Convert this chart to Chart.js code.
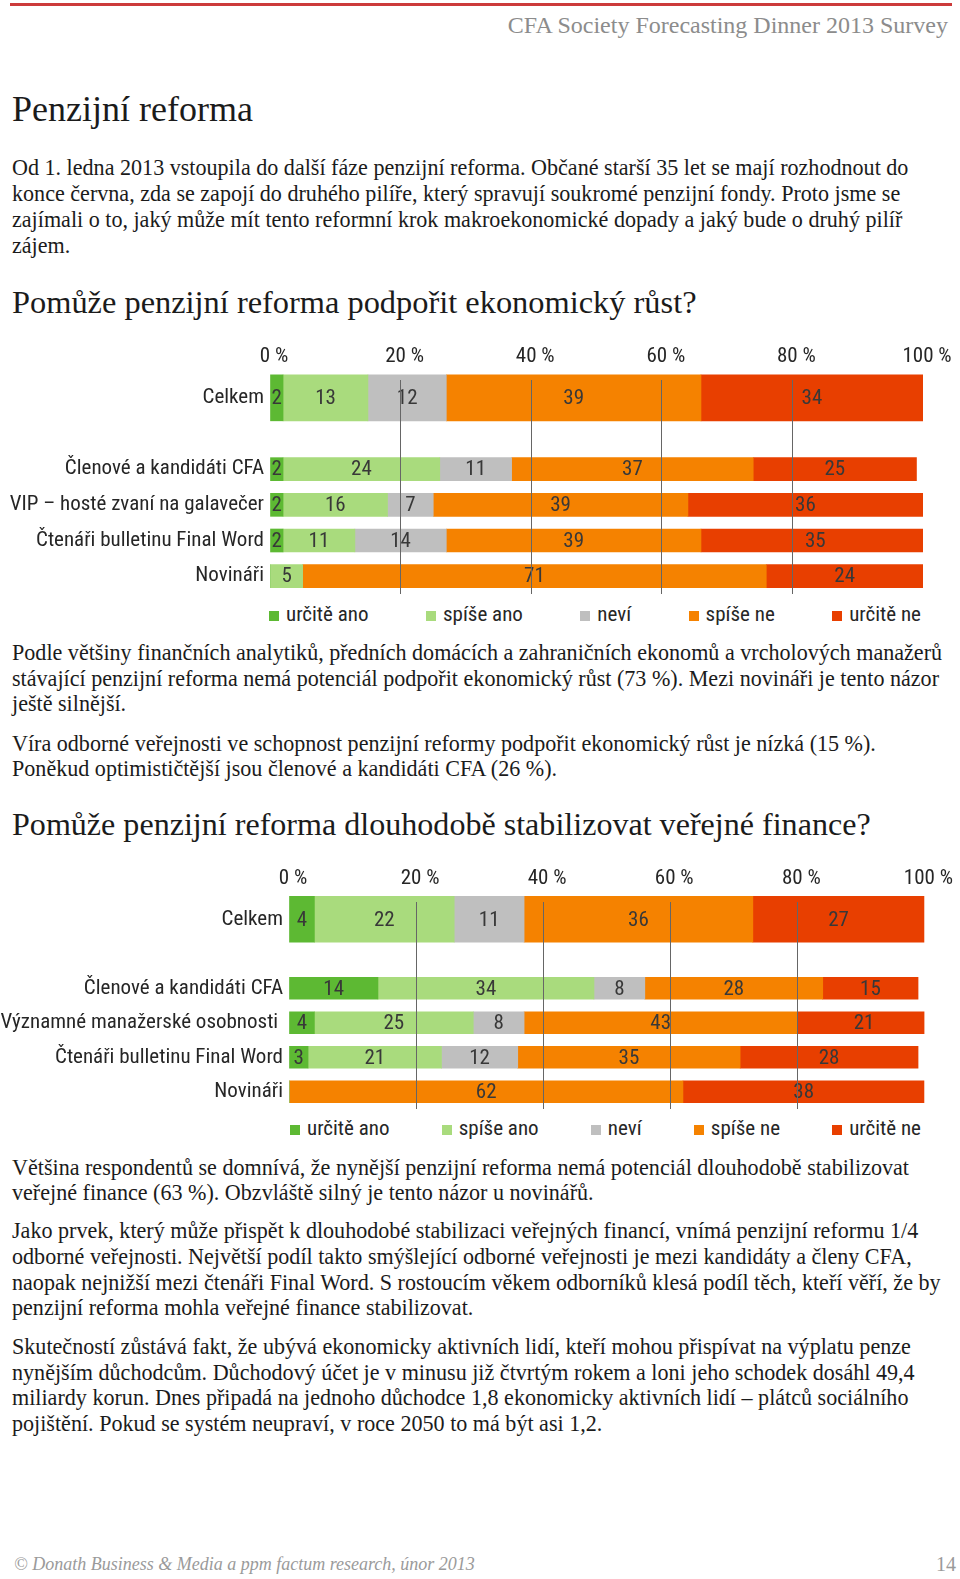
<!DOCTYPE html>
<html lang="cs">
<head>
<meta charset="utf-8">
<title>Penzijní reforma</title>
<script src="https://cdn.jsdelivr.net/npm/chart.js@4.4.1/dist/chart.umd.min.js"></script>
<style>
  html, body { margin: 0; padding: 0; background: #fff; }
  #page { position: relative; width: 960px; height: 1579px; overflow: hidden; font-family: "Liberation Serif", serif; color: #1b1b1b; }
  .abs { position: absolute; white-space: nowrap; }
  .topline { position: absolute; left: 10px; top: 3px; width: 942px; height: 3px; background: #cc3b3b; }
  .header { right: 12px; top: 12px; font-size: 24px; line-height: 26px; color: #8c8c8c; }
  .h { left: 12px; font-size: 32.4px; line-height: 40px; }
  .h.big { font-size: 36px; }
  .h.h3 { font-size: 32.1px; }
  .p { left: 12px; font-size: 22.1px; line-height: 25.7px; }
  .footer { left: 14px; top: 1551px; font-size: 18px; line-height: 26px; color: #9a9a9a; font-style: italic; }
  .pageno { right: 4px; top: 1551px; font-size: 20px; line-height: 26px; color: #9a9a9a; }
  canvas { position: absolute; left: 0; }
  .legend { position: absolute; display: flex; justify-content: space-between; font-family: "Roboto Condensed", sans-serif; font-size: 21px; color: #262626; line-height: 22px; }
  .legend .sw { display: inline-block; width: 10px; height: 10px; margin-right: 7px; }
</style>
</head>
<body>
<div id="page">
  <div class="topline"></div>
  <div class="abs header">CFA Society Forecasting Dinner 2013 Survey</div>
  <div class="abs h big" style="top:89px">Penzijní reforma</div>
  <div class="abs p" style="top:155.4px">Od 1. ledna 2013 vstoupila do další fáze penzijní reforma. Občané starší 35 let se mají rozhodnout do<br>konce června, zda se zapojí do druhého pilíře, který spravují soukromé penzijní fondy. Proto jsme se<br>zajímali o to, jaký může mít tento reformní krok makroekonomické dopady a jaký bude o druhý pilíř<br>zájem.</div>
  <div class="abs h" style="top:282px">Pomůže penzijní reforma podpořit ekonomický růst?</div>
  <canvas id="chart1" width="960" height="264" style="top:330px"></canvas>
  <div class="legend" id="legend1" style="left:269px; width:652px; top:603px"></div>
  <div class="abs p" style="top:640px">Podle většiny finančních analytiků, předních domácích a zahraničních ekonomů a vrcholových manažerů<br>stávající penzijní reforma nemá potenciál podpořit ekonomický růst (73 %). Mezi novináři je tento názor<br>ještě silnější.</div>
  <div class="abs p" style="top:730.5px">Víra odborné veřejnosti ve schopnost penzijní reformy podpořit ekonomický růst je nízká (15 %).<br>Poněkud optimističtější jsou členové a kandidáti CFA (26 %).</div>
  <div class="abs h h3" style="top:804px">Pomůže penzijní reforma dlouhodobě stabilizovat veřejné finance?</div>
  <canvas id="chart2" width="960" height="257" style="top:852px"></canvas>
  <div class="legend" id="legend2" style="left:290px; width:631px; top:1117px"></div>
  <div class="abs p" style="top:1154.7px">Většina respondentů se domnívá, že nynější penzijní reforma nemá potenciál dlouhodobě stabilizovat<br>veřejné finance (63 %). Obzvláště silný je tento názor u novinářů.</div>
  <div class="abs p" style="top:1218.2px">Jako prvek, který může přispět k dlouhodobé stabilizaci veřejných financí, vnímá penzijní reformu 1/4<br>odborné veřejnosti. Největší podíl takto smýšlející odborné veřejnosti je mezi kandidáty a členy CFA,<br>naopak nejnižší mezi čtenáři Final Word. S rostoucím věkem odborníků klesá podíl těch, kteří věří, že by<br>penzijní reforma mohla veřejné finance stabilizovat.</div>
  <div class="abs p" style="top:1334px">Skutečností zůstává fakt, že ubývá ekonomicky aktivních lidí, kteří mohou přispívat na výplatu penze<br>nynějším důchodcům. Důchodový účet je v minusu již čtvrtým rokem a loni jeho schodek dosáhl 49,4<br>miliardy korun. Dnes připadá na jednoho důchodce 1,8 ekonomicky aktivních lidí – plátců sociálního<br>pojištění. Pokud se systém neupraví, v roce 2050 to má být asi 1,2.</div>
  <div class="abs footer">© Donath Business &amp; Media a ppm factum research, únor 2013</div>
  <div class="abs pageno">14</div>
</div>
<script>
// series
const seriesNames = ["určitě ano", "spíše ano", "neví", "spíše ne", "určitě ne"];
const seriesColors = ["#5DB933", "#A9DB7D", "#BFBFBF", "#F58200", "#E83F00"];
const percentTicks = [0, 20, 40, 60, 80, 100];

// chart 1: Pomůže penzijní reforma podpořit ekonomický růst?
// rows: Celkem, then the four groups
const growthGroups = ["Členové a kandidáti CFA", "VIP – hosté zvaní na galavečer", "Čtenáři bulletinu Final Word", "Novináři"];
const growthUrciteAno = [2, 2, 2, 2, 0];
const growthSpiseAno = [13, 24, 16, 11, 5];
const growthNevi = [12, 11, 7, 14, 0];
const growthSpiseNe = [39, 37, 39, 39, 71];
const growthUrciteNe = [34, 25, 36, 35, 24];

// chart 2: Pomůže penzijní reforma dlouhodobě stabilizovat veřejné finance?
const financeGroups = ["Členové a kandidáti CFA", "Významné manažerské osobnosti ", "Čtenáři bulletinu Final Word", "Novináři"];
const financeUrciteAno = [4, 14, 4, 3, 0];
const financeSpiseAno = [22, 34, 25, 21, 0];
const financeNevi = [11, 8, 8, 12, 0];
const financeSpiseNe = [36, 28, 43, 35, 62];
const financeUrciteNe = [27, 15, 21, 28, 38];

const chartFont = { family: "'Roboto Condensed', sans-serif", size: 21 };

// Draw the numbers in the middle of every segment
const valueLabels = {
    id: "valueLabels",
    afterDatasetsDraw(chart) {
        const ctx = chart.ctx;
        ctx.save();
        ctx.font = `${chartFont.size}px ${chartFont.family}`;
        ctx.fillStyle = "#383838";
        ctx.textAlign = "center";
        ctx.textBaseline = "middle";
        chart.data.datasets.forEach((ds, i) => {
            chart.getDatasetMeta(i).data.forEach((bar, j) => {
                const v = ds.data[j];
                if (!v) return;
                ctx.fillText(String(v), (bar.x + bar.base) / 2, bar.y + 1);
            });
        });
        ctx.restore();
    }
};

function buildChart(canvasId, groups, series, opts) {
    // Celkem on its own row, one empty row, then the groups
    const labels = ["Celkem", ""].concat(groups);
    const datasets = [];
    series.forEach((vals, k) => {
        datasets.push({
            label: seriesNames[k],
            data: [vals[0], null, null, null, null, null],
            backgroundColor: seriesColors[k],
            barThickness: 46,
            clip: { left: 0, right: 0, top: false, bottom: false }
        });
    });
    series.forEach((vals, k) => {
        datasets.push({
            label: seriesNames[k],
            data: [null, null].concat(vals.slice(1)),
            backgroundColor: seriesColors[k],
            barThickness: opts.thin,
            clip: { left: 0, right: 0, top: false, bottom: false }
        });
    });

    new Chart(document.getElementById(canvasId), {
        type: "bar",
        data: { labels: labels, datasets: datasets },
        options: {
            indexAxis: "y",
            responsive: false,
            animation: false,
            layout: { padding: { left: 0, right: opts.right, top: 0, bottom: 0 } },
            plugins: { legend: { display: false }, tooltip: { enabled: false } },
            scales: {
                x: {
                    position: "top",
                    stacked: true,
                    min: 0,
                    max: 100,
                    afterBuildTicks: s => { s.ticks = percentTicks.map(v => ({ value: v })); },
                    afterFit: s => { s.height = 50; },
                    ticks: { callback: v => v + " %", padding: 11, labelOffset: 4, font: chartFont, color: "#262626" },
                    grid: {
                        z: 1,
                        drawTicks: false,
                        lineWidth: 1,
                        color: c => (c.tick && (c.tick.value === 0 || c.tick.value === 100)) ? "rgba(0,0,0,0)" : "#666666"
                    },
                    border: { display: false }
                },
                y: {
                    stacked: true,
                    afterFit: s => {
                        s.width = opts.left;
                        s.paddingTop = 0;
                        s.paddingBottom = 0;
                    },
                    ticks: { padding: 6, font: chartFont, color: "#262626" },
                    grid: { display: false, drawTicks: false },
                    border: { display: false }
                }
            }
        },
        plugins: [valueLabels]
    });
}

function buildLegend(id) {
    const box = document.getElementById(id);
    seriesNames.forEach((name, k) => {
        const item = document.createElement("div");
        item.innerHTML = `<span class="sw" style="background:${seriesColors[k]}"></span>${name}`;
        box.appendChild(item);
    });
}

buildChart("chart1", growthGroups,
    [growthUrciteAno, growthSpiseAno, growthNevi, growthSpiseNe, growthUrciteNe],
    { left: 270, right: 37, thin: 23 });
buildChart("chart2", financeGroups,
    [financeUrciteAno, financeSpiseAno, financeNevi, financeSpiseNe, financeUrciteNe],
    { left: 289, right: 33, thin: 22 });
buildLegend("legend1");
buildLegend("legend2");
</script>
</body>
</html>
